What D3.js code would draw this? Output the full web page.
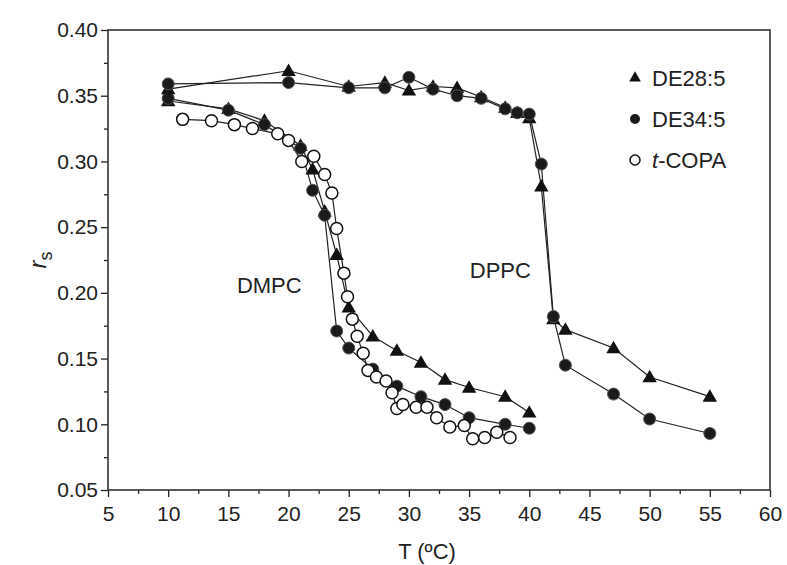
<!DOCTYPE html>
<html>
<head>
<meta charset="utf-8">
<script src="https://cdn.jsdelivr.net/npm/d3@7"></script>
<style>
  body { margin: 0; background: #fff; }
  svg { font-family: "Liberation Sans", Arial, sans-serif; }
</style>
</head>
<body>
<div id="chart"></div>
<script>
// [T (degC), r_s]
var de28Dmpc = [[10,0.346],[15,0.340],[18,0.331],[21,0.312],[22,0.294],[23,0.262],[24,0.229],[25,0.189],
  [27,0.167],[29,0.156],[31,0.147],[33,0.134],[35,0.128],[38,0.121],[40,0.109]];
var de34Dmpc = [[10,0.348],[15,0.339],[18,0.328],[21,0.310],[22,0.278],[23,0.259],[24,0.171],[25,0.158],
  [27,0.142],[29,0.129],[31,0.121],[33,0.115],[35,0.105],[38,0.100],[40,0.097]];
var copaDmpc = [[11.2,0.332],[13.6,0.331],[15.5,0.328],[17,0.325],[19.1,0.321],[20,0.316],[21.1,0.300],
  [22.1,0.304],[23,0.290],[23.6,0.276],[24,0.249],[24.6,0.215],[24.9,0.197],[25.3,0.180],[25.7,0.167],
  [26.2,0.154],[26.6,0.141],[27.3,0.136],[28.1,0.133],[28.6,0.124],[29,0.112],[29.5,0.115],[30.6,0.113],
  [31.5,0.113],[32.3,0.105],[33.4,0.098],[34.6,0.099],[35.3,0.089],[36.3,0.090],[37.3,0.094],[38.4,0.090]];
var de28Dppc = [[10,0.355],[20,0.369],[25,0.357],[28,0.360],[30,0.354],[32,0.357],[34,0.356],[36,0.349],
  [38,0.341],[39,0.337],[40,0.333],[41,0.281],[42,0.180],[43,0.172],[47,0.158],[50,0.136],[55,0.121]];
var de34Dppc = [[10,0.359],[20,0.360],[25,0.356],[28,0.356],[30,0.364],[32,0.355],[34,0.350],[36,0.348],
  [38,0.340],[39,0.337],[40,0.336],[41,0.298],[42,0.182],[43,0.145],[47,0.123],[50,0.104],[55,0.093]];

var xTicks = [5, 10, 15, 20, 25, 30, 35, 40, 45, 50, 55, 60];
var yTicks = [0.05, 0.10, 0.15, 0.20, 0.25, 0.30, 0.35, 0.40];
var legendNames = ['DE28:5', 'DE34:5', 't-COPA'];

var W = 787, H = 565;
var margin = {top: 30, right: 17, bottom: 75, left: 108};
var width = W - margin.left - margin.right;
var height = H - margin.top - margin.bottom;

var svg = d3.select('#chart').append('svg')
    .attr('width', W)
    .attr('height', H);
var g = svg.append('g')
    .attr('transform', 'translate(' + margin.left + ',' + margin.top + ')');

var x = d3.scaleLinear().domain([5, 60]).range([0, width]);
var y = d3.scaleLinear().domain([0.05, 0.40]).range([height, 0]);

var ink = '#222';

// minor ticks
g.append('g')
  .attr('transform', 'translate(0,' + height + ')')
  .call(d3.axisBottom(x).tickValues(d3.range(7.5, 60, 5)).tickSize(4).tickFormat(''))
  .call(function (a) { a.select('.domain').remove(); });
g.append('g')
  .call(d3.axisLeft(y).tickValues(d3.range(0.075, 0.40, 0.05)).tickSize(4).tickFormat(''))
  .call(function (a) { a.select('.domain').remove(); });

// major ticks
var xAxis = g.append('g')
  .attr('transform', 'translate(0,' + height + ')')
  .call(d3.axisBottom(x).tickValues(xTicks).tickSize(7).tickPadding(9).tickFormat(d3.format('d')));
var yAxis = g.append('g')
  .call(d3.axisLeft(y).tickValues(yTicks).tickSize(7).tickPadding(3).tickFormat(d3.format('.2f')));

[xAxis, yAxis].forEach(function (a) {
  a.select('.domain').remove();
  a.selectAll('text').style('font-size', '21px').attr('fill', ink);
});
g.selectAll('.tick line').attr('stroke', ink).attr('stroke-width', 1.3);

// frame
g.append('rect')
  .attr('width', width)
  .attr('height', height)
  .attr('fill', 'none')
  .attr('stroke', '#333')
  .attr('stroke-width', 1.6);

var line = d3.line()
    .x(function (d) { return x(d[0]); })
    .y(function (d) { return y(d[1]); });

var allSeries = [
  {data: de28Dmpc, shape: 'tri'},
  {data: de34Dmpc, shape: 'dot'},
  {data: copaDmpc, shape: 'open'},
  {data: de28Dppc, shape: 'tri'},
  {data: de34Dppc, shape: 'dot'}
];

allSeries.forEach(function (s) {
  g.append('path')
    .attr('d', line(s.data))
    .attr('fill', 'none')
    .attr('stroke', ink)
    .attr('stroke-width', 1.2);
});

var triSym = d3.symbol().type(d3.symbolTriangle).size(90);

function drawMarker(sel, shape) {
  if (shape === 'tri') {
    sel.append('path')
      .attr('d', triSym())
      .attr('transform', 'translate(0,1)')
      .attr('fill', '#111');
  } else if (shape === 'dot') {
    sel.append('circle')
      .attr('r', 6)
      .attr('fill', '#1a1a1a')
      .attr('stroke', '#555')
      .attr('stroke-width', 1);
  } else {
    sel.append('circle')
      .attr('r', 6)
      .attr('fill', '#fff')
      .attr('stroke', '#111')
      .attr('stroke-width', 1.5);
  }
}

allSeries.forEach(function (s) {
  g.append('g').selectAll('g')
    .data(s.data)
    .enter().append('g')
    .attr('transform', function (d) { return 'translate(' + x(d[0]) + ',' + y(d[1]) + ')'; })
    .each(function () { drawMarker(d3.select(this), s.shape); });
});

// legend
var legendShapes = ['tri', 'dot', 'open'];
var legend = g.append('g').attr('transform', 'translate(527,48)');
legendNames.forEach(function (name, i) {
  var row = legend.append('g').attr('transform', 'translate(0,' + (i * 41) + ')');
  var m = row.append('g');
  if (legendShapes[i] === 'tri') {
    m.append('path').attr('d', d3.symbol().type(d3.symbolTriangle).size(60)()).attr('fill', '#111');
  } else if (legendShapes[i] === 'dot') {
    m.append('circle').attr('r', 5).attr('fill', '#1a1a1a');
  } else {
    m.append('circle').attr('r', 5).attr('fill', '#fff').attr('stroke', '#111').attr('stroke-width', 1.5);
  }
  var t = row.append('text')
    .attr('x', 17)
    .attr('dy', '0.36em')
    .style('font-size', '22px')
    .attr('fill', ink);
  if (name.indexOf('t-') === 0) {
    t.append('tspan').style('font-style', 'italic').text('t');
    t.append('tspan').text(name.slice(1));
  } else {
    t.text(name);
  }
});

// annotations
g.append('text')
  .attr('x', x(18.4)).attr('y', y(0.2))
  .attr('text-anchor', 'middle')
  .style('font-size', '22px').attr('fill', ink)
  .text('DMPC');
g.append('text')
  .attr('x', x(37.6)).attr('y', y(0.211))
  .attr('text-anchor', 'middle')
  .style('font-size', '22px').attr('fill', ink)
  .text('DPPC');

// axis titles
svg.append('text')
  .attr('x', margin.left + width / 2 - 12)
  .attr('y', 559)
  .attr('text-anchor', 'middle')
  .style('font-size', '22px').attr('fill', ink)
  .text('T (\u00BAC)');

var yt = svg.append('text')
  .attr('transform', 'translate(46,' + (margin.top + height / 2) + ') rotate(-90)')
  .attr('text-anchor', 'middle')
  .style('font-size', '24px').attr('fill', ink);
yt.append('tspan').style('font-style', 'italic').text('r');
yt.append('tspan').attr('dy', 6).style('font-size', '18px').text('s');
</script>
</body>
</html>
